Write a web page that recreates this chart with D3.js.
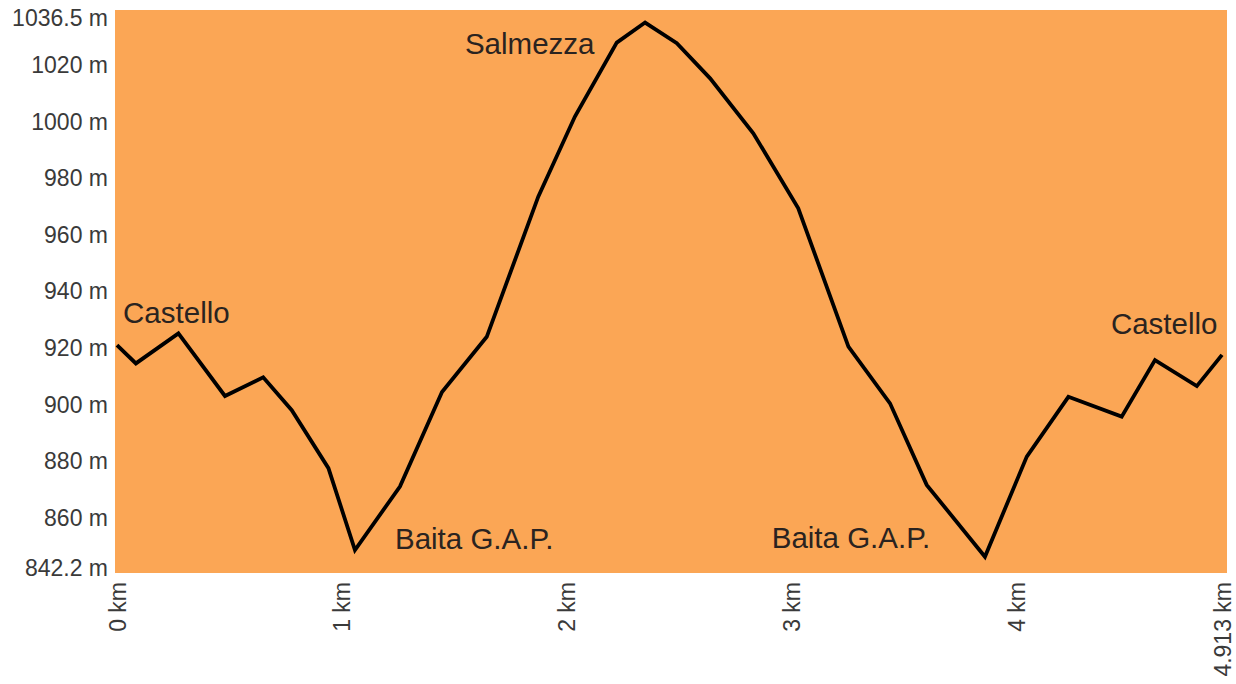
<!DOCTYPE html>
<html>
<head>
<meta charset="utf-8">
<script src="https://cdn.jsdelivr.net/npm/d3@7"></script>
<style>
  body { margin: 0; background: #fff; }
  text { font-family: "Liberation Sans", Arial, sans-serif; }
</style>
</head>
<body>
<svg id="profile" width="1236" height="684"></svg>
<script>
// distance along the route (km) and elevation (m)
var distKm = [0, 0.084, 0.273, 0.480, 0.650, 0.777, 0.940, 1.058, 1.258, 1.445,
    1.644, 1.873, 2.036, 2.222, 2.348, 2.489, 2.637, 2.829, 3.029, 3.252,
    3.437, 3.600, 3.859, 4.045, 4.230, 4.467, 4.615, 4.801, 4.913];
var elevM = [921.1, 914.6, 925.2, 903.1, 909.7, 898.1, 877.6, 848.7, 871.1, 904.5,
    924.0, 973.5, 1001.8, 1027.9, 1035.0, 1027.7, 1015.3, 995.9, 969.4, 920.5,
    900.5, 871.7, 846.3, 881.7, 902.8, 895.8, 915.8, 906.6, 917.6];

var yTicks = [842.2, 860, 880, 900, 920, 940, 960, 980, 1000, 1020, 1036.5];
var xTicks = [0, 1, 2, 3, 4, 4.913];
var xTickLabels = ["0 km", "1 km", "2 km", "3 km", "4 km", "4.913 km"];

// place names and where they sit (km, m)
var placeNames = ["Castello", "Baita G.A.P.", "Salmezza", "Baita G.A.P.", "Castello"];
var placeKm = [0.027, 1.236, 1.547, 2.911, 4.419];
var placeM = [929, 849, 1024, 849.5, 925];

var svg = d3.select("#profile"),
    width = +svg.attr("width"),
    height = +svg.attr("height");

var x = d3.scaleLinear().domain([0, 4.913]).range([117, 1222]);
var y = d3.scaleLinear().domain([842.2, 1036.5]).range([568.4, 18.3]);

var data = distKm.map(function(d, i) {
    return { km: d, m: elevM[i] };
});

// plot background
svg.append("rect")
    .attr("x", 115)
    .attr("y", 10)
    .attr("width", 1227 - 115)
    .attr("height", 573 - 10)
    .attr("fill", "#fba655");

// y axis
var yAxis = svg.append("g")
    .attr("transform", "translate(115,0)")
    .call(d3.axisLeft(y).tickValues(yTicks).tickSize(0).tickPadding(7)
        .tickFormat(function(d) { return d + " m"; }));
yAxis.select(".domain").remove();
yAxis.selectAll("text")
    .attr("font-family", "Liberation Sans, Arial, sans-serif")
    .attr("font-size", 23)
    .attr("fill", "#3a3a3a");

// x axis, labels turned upright
var xAxis = svg.append("g")
    .attr("transform", "translate(0,573)")
    .call(d3.axisBottom(x).tickValues(xTicks).tickSize(0)
        .tickFormat(function(d, i) { return xTickLabels[i]; }));
xAxis.select(".domain").remove();
xAxis.selectAll("text")
    .attr("font-family", "Liberation Sans, Arial, sans-serif")
    .attr("font-size", 23)
    .attr("fill", "#3a3a3a")
    .attr("text-anchor", "end")
    .attr("x", -9)
    .attr("y", 0)
    .attr("dy", "0.35em")
    .attr("transform", "rotate(-90)");

// elevation profile
var line = d3.line()
    .x(function(d) { return x(d.km); })
    .y(function(d) { return y(d.m); });

svg.append("path")
    .datum(data)
    .attr("d", line)
    .attr("fill", "none")
    .attr("stroke", "#000")
    .attr("stroke-width", 3.8)
    .attr("stroke-linejoin", "miter");

// place labels
svg.append("g")
    .selectAll("text")
    .data(placeNames)
    .enter()
    .append("text")
    .attr("x", function(d, i) { return x(placeKm[i]); })
    .attr("y", function(d, i) { return y(placeM[i]); })
    .attr("font-size", 29.5)
    .attr("fill", "#2a2320")
    .text(function(d) { return d; });
</script>
</body>
</html>
